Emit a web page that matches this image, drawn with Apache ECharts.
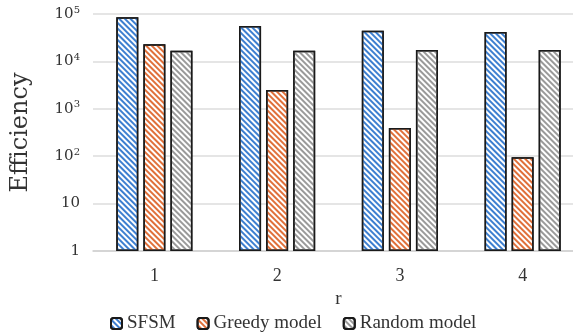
<!doctype html>
<html lang="en">
<head>
    <meta charset="UTF-8">
    <title>Efficiency</title>
    <script src="https://cdn.jsdelivr.net/npm/echarts@6/dist/echarts.min.js"></script>
    <style>
        html, body { margin: 0; padding: 0; background: #fff; }
        #main { width: 573px; height: 335px; }
    </style>
</head>
<body>
<div id="main"></div>
<script>
    // data
    let categories = ['1', '2', '3', '4'];
    let sfsm = [85000, 55800, 44400, 41700];
    let greedy = [23000, 2490, 394, 95];
    let random = [16800, 16800, 17400, 17400];
    let seriesNames = ['SFSM', 'Greedy model', 'Random model'];
    let seriesColors = ['#3d7fd0', '#e0703a', '#9a9a9a'];

    let times = '"Liberation Serif", "Times New Roman", serif';
    let wide = '"DejaVu Serif", Cambria, serif';

    function hatch(color) {
        return {
            color: color,
            symbol: 'rect',
            symbolSize: 1,
            dashArrayX: [1, 0],
            dashArrayY: [1.4, 1.6],
            rotation: Math.PI / 4
        };
    }

    function makeSeries(name, data, color) {
        return {
            name: name,
            type: 'bar',
            data: data,
            barWidth: 22,
            barGap: '23%',
            itemStyle: {
                color: '#fff',
                borderColor: '#1a1a1a',
                borderWidth: 1.5,
                decal: hatch(color)
            }
        };
    }

    let myChart = echarts.init(document.getElementById('main'), null, {renderer: 'canvas'});

    let option = {
        animation: false,
        aria: { enabled: true, decal: { show: true } },
        // plot runs a little past the right edge, like the cropped original
        grid: { left: 93, width: 491, top: 14, bottom: 84, outerBoundsMode: 'none' },
        legend: {
            top: 309,
            left: 105,
            itemWidth: 11,
            itemHeight: 11,
            itemGap: 21,
            textStyle: { fontFamily: times, fontSize: 19, color: '#333' },
            data: seriesNames
        },
        xAxis: {
            type: 'category',
            data: categories,
            name: 'r',
            nameLocation: 'middle',
            nameGap: 29,
            nameTextStyle: { fontFamily: times, fontSize: 19, color: '#333' },
            axisLine: { lineStyle: { color: '#d0d0d0', width: 1.5 } },
            axisTick: { show: false },
            axisLabel: { fontFamily: times, fontSize: 18, color: '#333', margin: 16 }
        },
        yAxis: {
            type: 'log',
            logBase: 10,
            min: 1,
            max: 100000,
            name: 'Efficiency',
            nameLocation: 'middle',
            nameGap: 60,
            nameTextStyle: { fontFamily: wide, fontSize: 24, color: '#333' },
            axisLine: { show: false },
            axisTick: { show: false },
            splitLine: { lineStyle: { color: '#dcdcdc', width: 1.5 } },
            axisLabel: {
                fontFamily: wide,
                fontSize: 15,
                color: '#333',
                margin: 13,
                formatter: function (v) {
                    let p = Math.round(Math.log10(v));
                    if (p === 0) return '1';
                    if (p === 1) return '10';
                    return '10{sup|' + p + '}';
                },
                rich: {
                    sup: { fontFamily: wide, fontSize: 10, color: '#333', verticalAlign: 'top', padding: [0, 0, 8, 0] }
                }
            }
        },
        series: [
            makeSeries(seriesNames[0], sfsm, seriesColors[0]),
            makeSeries(seriesNames[1], greedy, seriesColors[1]),
            makeSeries(seriesNames[2], random, seriesColors[2])
        ]
    };

    option && myChart.setOption(option);
</script>
</body>
</html>
